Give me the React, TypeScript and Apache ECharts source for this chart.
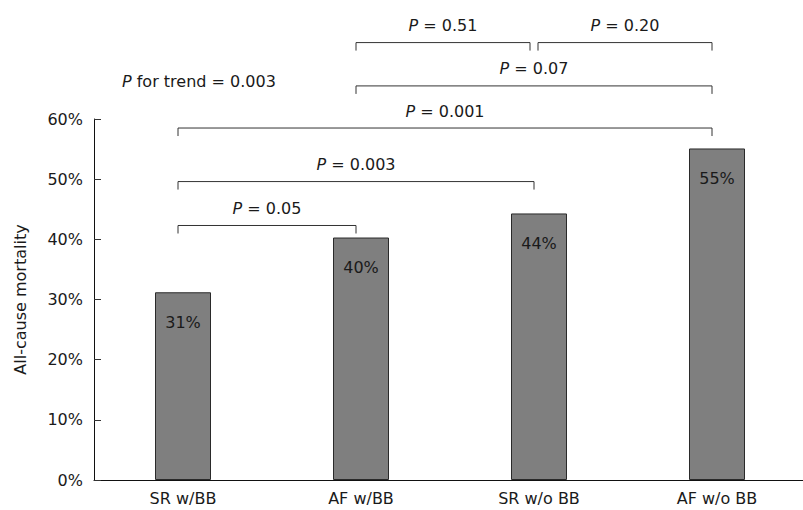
import React, { useEffect, useRef } from "react";
import * as echarts from "echarts";

const categories = ["SR w/BB", "AF w/BB", "SR w/o BB", "AF w/o BB"];
const mortality = [31.2, 40.3, 44.3, 55.1];
const barLabels = ["31%", "40%", "44%", "55%"];
const yTicks = { min: 0, max: 60, interval: 10 };
// brackets: [fromCategoryIndex, toCategoryIndex, level (%)]
const bracketFrom = [0, 0, 0, 1, 1, 2];
const bracketTo = [1, 2, 3, 3, 2, 3];
const bracketLevel = [42.3, 49.6, 58.5, 65.5, 72.7, 72.7];
const bracketP = ["0.05", "0.003", "0.001", "0.07", "0.51", "0.20"];
const trendP = "0.003";

const FONT = "DejaVu Sans";
const TXT = "#1a1a1a";

export default function App() {
  const ref = useRef<HTMLDivElement>(null);
  useEffect(() => {
    if (!ref.current) return;
    const chart = echarts.init(ref.current, null, { renderer: "svg" });
    const bracketData = bracketFrom.map((f, i) => [f, bracketTo[i], bracketLevel[i], i]);
    chart.setOption({
      animation: false,
      backgroundColor: "#ffffff",
      textStyle: { fontFamily: FONT },
      grid: { left: 94, top: 119, width: 712, bottom: 30, outerBoundsMode: "none", containLabel: false },
      xAxis: {
        type: "category",
        data: categories,
        axisLine: { lineStyle: { color: "#111", width: 1 } },
        axisTick: { inside: true, length: 9, lineStyle: { color: "#333" } },
        axisLabel: { margin: 10, fontSize: 16, color: TXT, fontFamily: FONT },
        splitLine: { show: false },
      },
      yAxis: {
        type: "value",
        min: yTicks.min,
        max: yTicks.max,
        interval: yTicks.interval,
        axisLine: { show: true, lineStyle: { color: "#111", width: 1 } },
        axisTick: { show: true, inside: true, length: 7, lineStyle: { color: "#333" } },
        axisLabel: { formatter: "{value}%", margin: 11, fontSize: 16, color: TXT, fontFamily: FONT },
        splitLine: { show: false },
        name: "All-cause mortality",
        nameLocation: "middle",
        nameGap: 66,
        nameTextStyle: { fontSize: 16, color: TXT, fontFamily: FONT },
      },
      graphic: [
        {
          type: "text",
          left: 122,
          top: 73,
          style: {
            text: "{i|P} for trend = " + trendP,
            fontSize: 16,
            fill: TXT,
            fontFamily: FONT,
            rich: { i: { fontStyle: "italic", fontSize: 16, fill: TXT, fontFamily: FONT } },
          },
        },
      ],
      series: [
        {
          type: "bar",
          data: mortality,
          barWidth: 56,
          itemStyle: { color: "#7f7f7f", borderColor: "#2a2a2a", borderWidth: 1 },
          label: {
            show: true,
            position: "insideTop",
            distance: 22,
            fontSize: 16,
            color: TXT,
            fontFamily: FONT,
            formatter: (p: any) => barLabels[p.dataIndex],
          },
        },
        {
          type: "custom",
          clip: false,
          silent: true,
          z: 5,
          data: bracketData,
          encode: { x: [0, 1], y: 2 },
          renderItem: (params: any, api: any) => {
            const i = params.dataIndex;
            const f = api.value(0);
            const t = api.value(1);
            const lv = api.value(2);
            const p1 = api.coord([f, lv]);
            const p2 = api.coord([t, lv]);
            // leave a small gap where two brackets meet at the same level
            const startShared = bracketTo.some((tt, j) => j !== i && tt === f && bracketLevel[j] === lv);
            const endShared = bracketFrom.some((ff, j) => j !== i && ff === t && bracketLevel[j] === lv);
            const x1 = p1[0] - 5 + (startShared ? 4 : 0);
            const x2 = p2[0] - 5 - (endShared ? 4 : 0);
            const y = p1[1];
            return {
              type: "group",
              children: [
                {
                  type: "polyline",
                  shape: { points: [[x1, y + 8], [x1, y], [x2, y], [x2, y + 8]] },
                  style: { stroke: "#333", lineWidth: 1, fill: null },
                },
                {
                  type: "text",
                  x: (x1 + x2) / 2,
                  y: y - 17,
                  style: {
                    text: "{i|P} = " + bracketP[i],
                    align: "center",
                    verticalAlign: "middle",
                    fontSize: 16,
                    fill: TXT,
                    fontFamily: FONT,
                    rich: { i: { fontStyle: "italic", fontSize: 16, fill: TXT, fontFamily: FONT } },
                  },
                },
              ],
            };
          },
        },
      ],
    });
    return () => chart.dispose();
  }, []);
  return (
    <div
      ref={ref}
      style={{ position: "fixed", left: 0, top: 0, width: 803, height: 510, background: "#fff" }}
    />
  );
}
